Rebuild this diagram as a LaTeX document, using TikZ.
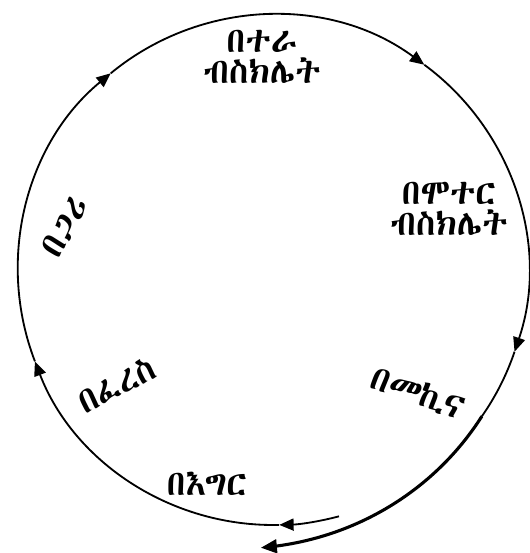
\documentclass[tikz,border=0pt]{standalone}
\usepackage{fontspec}
\usepackage{tikz}
\usetikzlibrary{arrows.meta}
\newfontfamily\ethfont[Script=Ethiopic]{Abyssinica SIL}
\tikzset{
  mode/.style={align=center, font=\ethfont\fontsize{25}{21.5}\selectfont, inner sep=1pt},
  ring/.style={line width=1.3pt, -{Triangle[length=3.6mm, width=3mm]}},
  tail/.style={line width=2.2pt, -{Triangle[length=4mm, width=3.4mm]}},
  declare function={spiralr(\t)=255+23*(0.5*((-35-\t)/57.5)+0.5*((-35-\t)/57.5)^2);},
}

\begin{document}
\begin{tikzpicture}[x=0.25mm, y=0.25mm]
\useasboundingbox (-273,-283) rectangle (257,270);
\def\R{255}
% ring, one arrow per step
\foreach \a/\b in {285/271.4, 271.4/201, 201/129.5, 129.5/53.6, 53.6/-18.7}
  \draw[ring] (\a:\R) arc[start angle=\a, end angle=\b, radius=\R];
\draw[ring, -] (-18.7:\R) arc[start angle=-18.7, end angle=-35, radius=\R];
% spiral going out at the bottom
\draw[tail] plot[domain=-35:-92.5, samples=30, smooth, variable=\t] ({spiralr(\t)*cos(\t)}, {spiralr(\t)*sin(\t)});
% modes of transport
\node[mode] (bicycle) at (-11,213) {በተራ\\ብስክሌት};
\node[mode] (motorbike) at (176,61) {በሞተር\\ብስክሌት};
\node[mode, rotate=-20] (car) at (145,-123) {በመኪና};
\node[mode] (foot) at (-66,-214) {በእግር};
\node[mode, rotate=27] (horse) at (-156,-115) {በፈረስ};
\node[mode, rotate=60] (cart) at (-208,43) {በጋሪ};
\end{tikzpicture}
\end{document}
